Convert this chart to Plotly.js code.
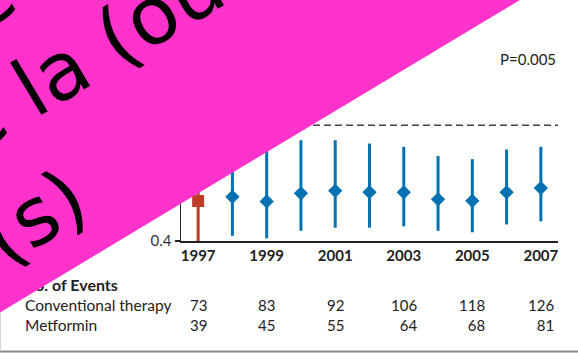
<!DOCTYPE html>
<html><head><meta charset="utf-8">
<script src="https://cdn.plot.ly/plotly-3.0.1.min.js"></script>
<style>html,body{margin:0;padding:0;background:#fff;overflow:hidden}</style>
</head><body><div id="chart" style="width:578px;height:354px"></div>
<script>
// ---- data ----
const years = [1997, 1998, 1999, 2000, 2001, 2002, 2003, 2004, 2005, 2006, 2007];
const relRisk = [0.607, 0.629, 0.605, 0.647, 0.660, 0.653, 0.652, 0.616, 0.608, 0.652, 0.674];
const ciLower = [0.400, 0.427, 0.414, 0.453, 0.469, 0.469, 0.476, 0.453, 0.445, 0.486, 0.502];
const ciUpper = [0.910, 0.930, 0.880, 0.922, 0.922, 0.905, 0.888, 0.840, 0.824, 0.874, 0.888];
const tickYears = [1997, 1999, 2001, 2003, 2005, 2007];
const yTicks = [0.4, 0.6, 0.8, 1.0, 1.2, 1.4];
const refLine = 1.0;
const pText = "P=0.005";
const eventYears = [1997, 1999, 2001, 2003, 2005, 2007];
const convEvents = [73, 83, 92, 106, 118, 126];
const metEvents = [39, 45, 55, 64, 68, 81];
const rowLabels = ["Conventional therapy", "Metformin"];
const eventsHeader = "No. of Events";
const overlayLines = ["Image retirée à la demande", "de la (ou des)", "personne(s)"];

// ---- styles ----
const RED = "#BF3B2A", BLUE = "#0072B2", PINK = "#FF33CC";
const txtFont = "Lato, 'Liberation Sans', sans-serif";
const W = 578, H = 354;
const px = v => v / W, py = v => (H - v) / H;

function errTrace(idx, color, symbol, size) {
  return {
    type: "scatter", mode: "markers", x: idx.map(i => years[i]), y: idx.map(i => relRisk[i]),
    marker: {symbol: symbol, size: size, color: color, line: {width: 0}},
    error_y: {type: "data", symmetric: false,
      array: idx.map(i => ciUpper[i] - relRisk[i]),
      arrayminus: idx.map(i => relRisk[i] - ciLower[i]),
      color: color, thickness: 3, width: 0},
    hoverinfo: "skip", showlegend: false
  };
}
const redIdx = [0];
const blueIdx = years.map((_, i) => i).filter(i => i > 0);
const data = [errTrace(blueIdx, BLUE, "diamond", 11), errTrace(redIdx, RED, "square", 12)];

const annotations = [];
annotations.push({xref: "paper", yref: "paper", x: px(21), y: py(284.5), xanchor: "left", yanchor: "middle",
  text: "<b>" + eventsHeader + "</b>", showarrow: false, font: {family: txtFont, size: 16, color: "#222"}});
annotations.push({xref: "paper", yref: "paper", x: px(23), y: py(314.5), xanchor: "left", yanchor: "middle",
  align: "left", text: rowLabels.join("<br>"), showarrow: false, font: {family: txtFont, size: 15.5, color: "#222"}});
eventYears.forEach((yr, i) => {
  annotations.push({xref: "x", yref: "paper", x: yr, y: py(314.5), xanchor: "center", yanchor: "middle",
    align: "right", text: convEvents[i] + "<br>" + metEvents[i], showarrow: false,
    font: {family: txtFont, size: 15, color: "#222"}});
});
annotations.push({xref: "x domain", yref: "paper", x: 1, y: py(59), xanchor: "right", yanchor: "middle",
  text: pText, showarrow: false, font: {family: txtFont, size: 15, color: "#222"}});
// overlay band and its text
annotations.push({xref: "paper", yref: "paper", x: px(105.5), y: py(-101.1), xanchor: "center", yanchor: "middle",
  text: " ", width: 1200, height: 600, bgcolor: PINK, borderpad: 0, borderwidth: 0, textangle: -31, showarrow: false});
const lineAnchors = [[-971.5, 598], [-110.1, 199.3], [-355.1, 476.4]];
overlayLines.forEach((t, i) => {
  annotations.push({xref: "paper", yref: "paper", x: px(lineAnchors[i][0]), y: py(lineAnchors[i][1]),
    xanchor: "left", yanchor: "bottom", text: t, textangle: -31, showarrow: false, borderpad: 0, borderwidth: 0,
    font: {family: "DejaVu Sans", size: 80, color: "#000"}});
});

const layout = {
  width: W, height: H, autosize: false,
  margin: {l: 0, r: 0, t: 0, b: 0, pad: 0},
  paper_bgcolor: "#fff", plot_bgcolor: "#fff", showlegend: false,
  xaxis: {domain: [181 / W, 558 / W], range: [1996.5, 2007.5], tickvals: tickYears,
    showline: true, linecolor: "#222", linewidth: 1.5, ticks: "", showgrid: false, zeroline: false,
    tickfont: {family: txtFont, size: 15, color: "#222", weight: "bold"}, fixedrange: true},
  yaxis: {domain: [(H - 241) / H, (H - 48) / H], range: [0.4, 1.4], tickvals: yTicks,
    tickformat: ".1f", showline: true, linecolor: "#222", linewidth: 1.5, ticks: "outside", ticklen: 5,
    tickcolor: "#222", tickwidth: 1.2, showgrid: false, zeroline: false,
    tickfont: {family: txtFont, size: 15, color: "#333"}, fixedrange: true},
  shapes: [
    {type: "line", xref: "x domain", yref: "y", x0: 0, x1: 1, y0: refLine, y1: refLine,
      line: {color: "#444", width: 1.5, dash: "7px,4px"}, layer: "below"},
    {type: "line", xref: "paper", yref: "paper", x0: 0, x1: 1, y0: py(351.5), y1: py(351.5),
      line: {color: "#8a8a8a", width: 2}},
    {type: "line", xref: "paper", yref: "paper", x0: px(0.5), x1: px(0.5), y0: py(351), y1: 1,
      line: {color: "#d8d8d8", width: 1}}
  ],
  annotations: annotations
};
Plotly.newPlot("chart", data, layout, {displayModeBar: false, staticPlot: true});
</script></body></html>
